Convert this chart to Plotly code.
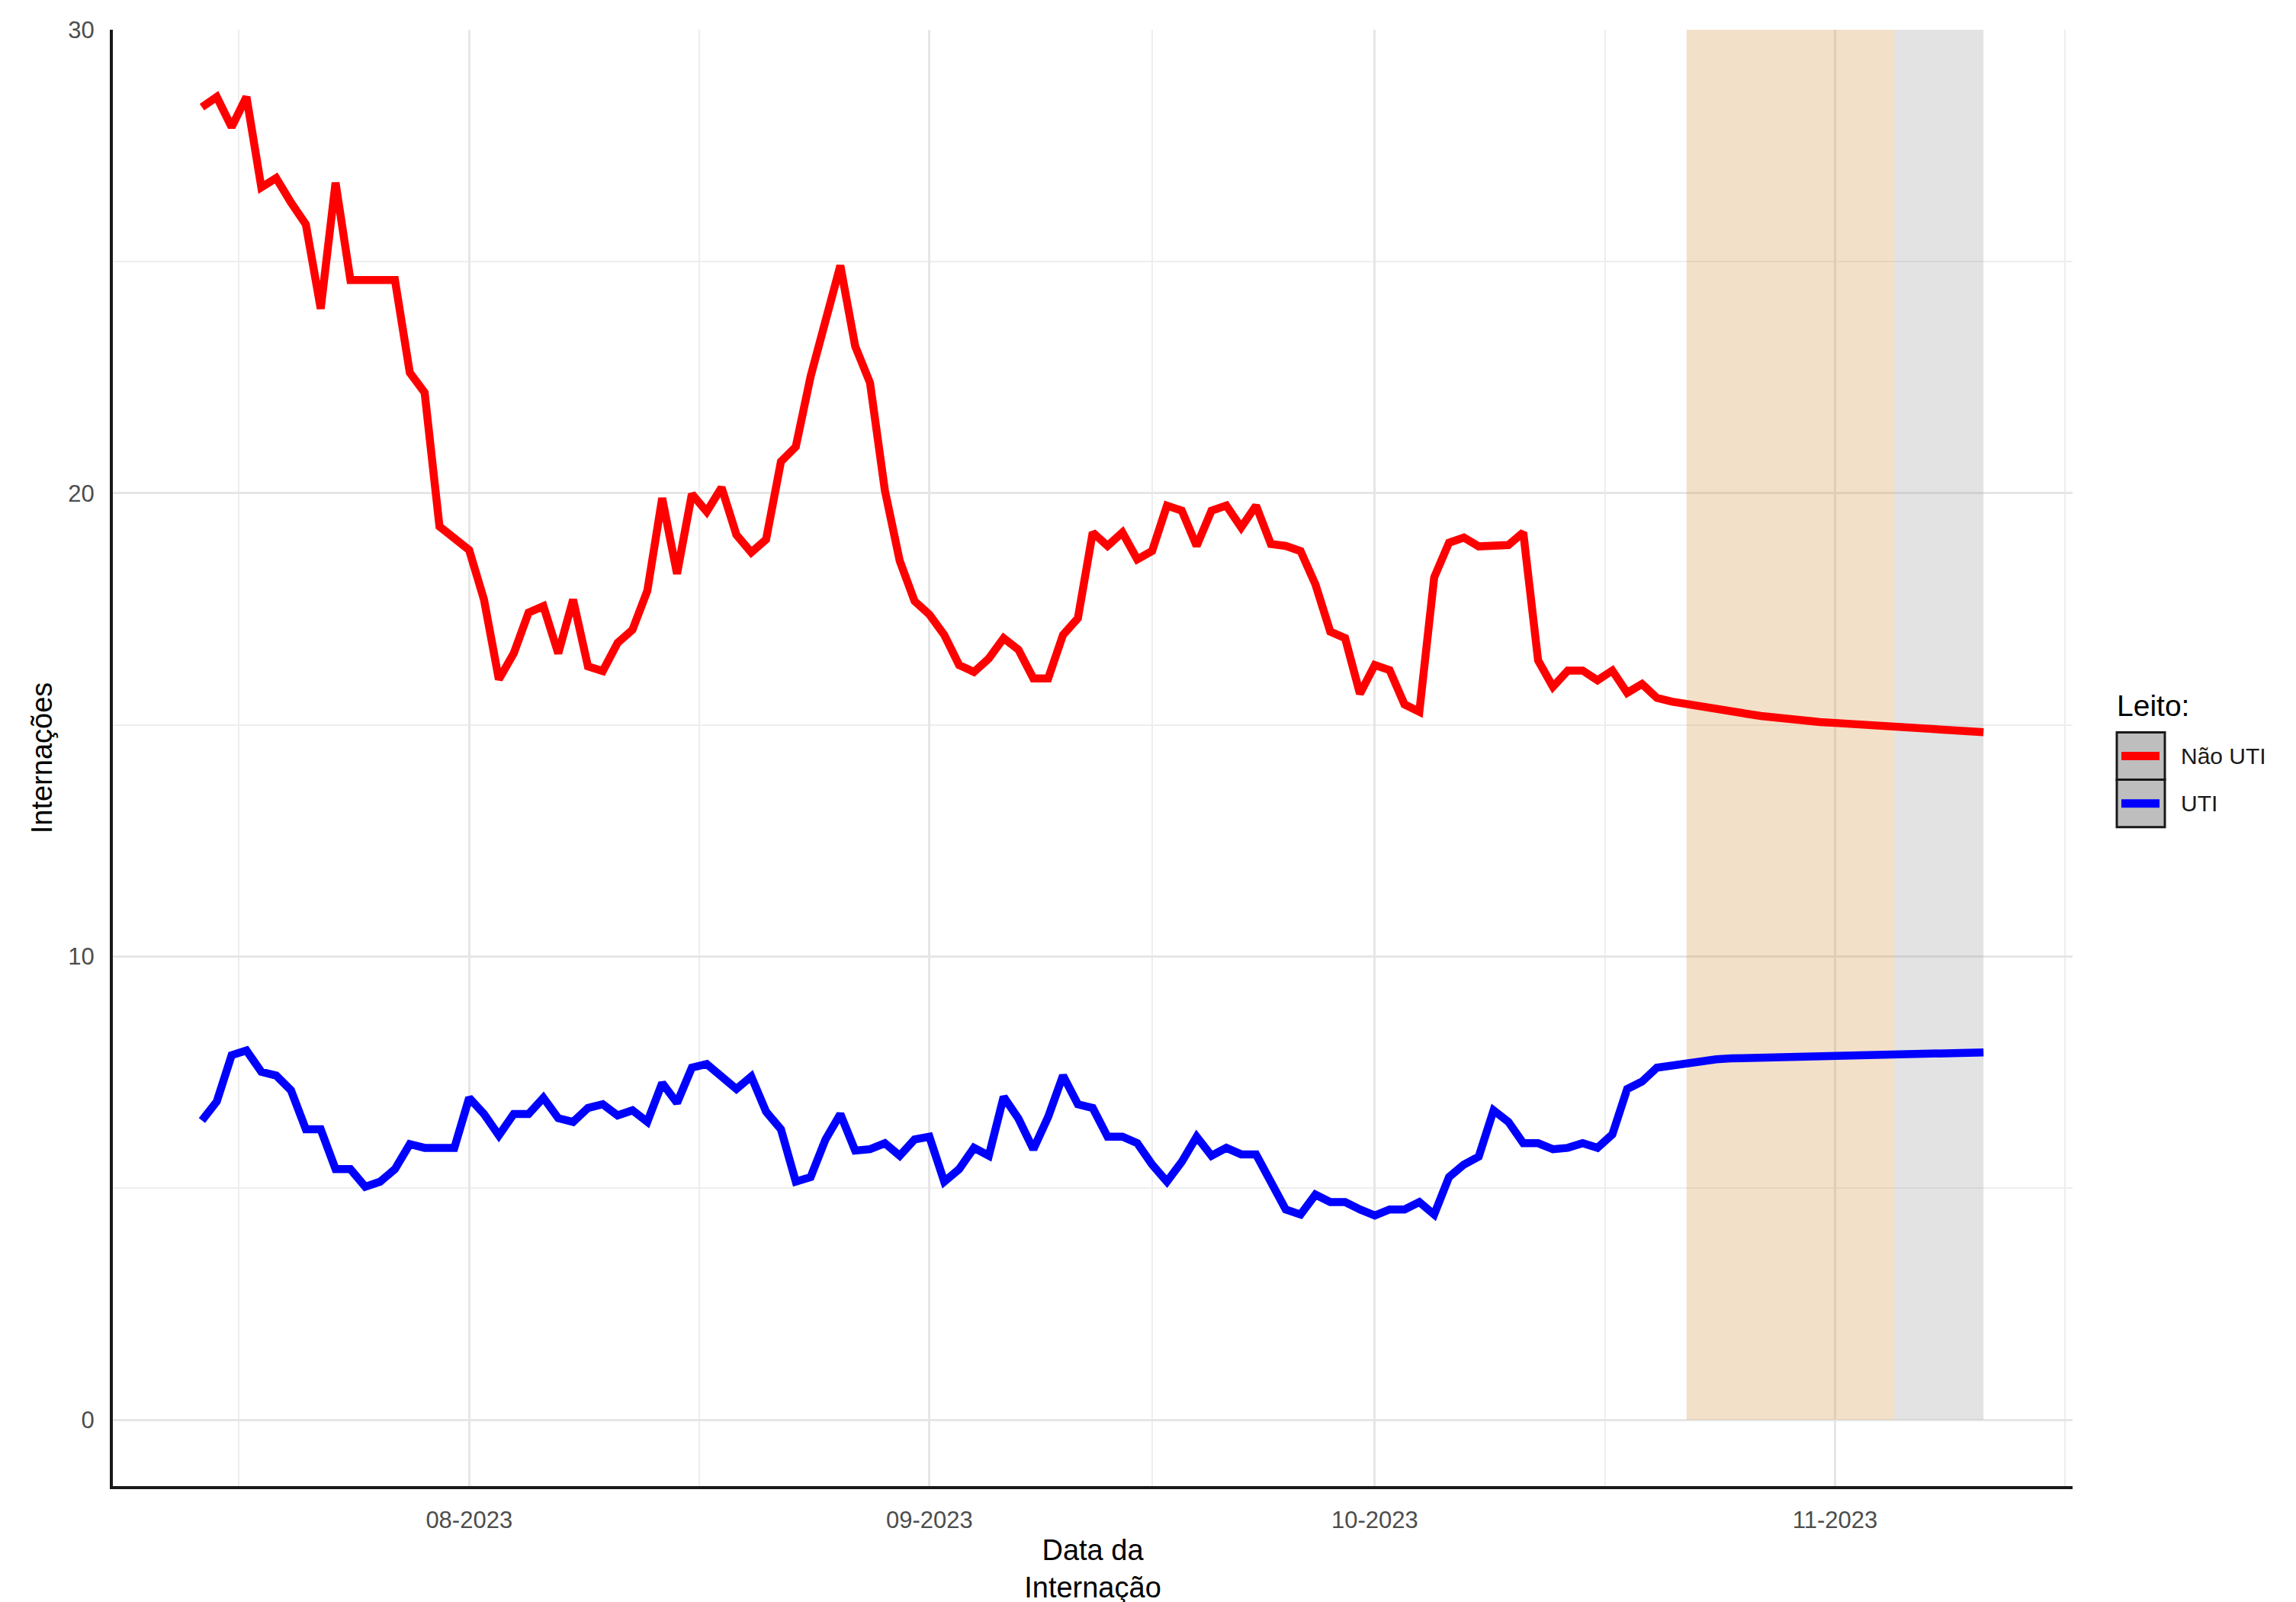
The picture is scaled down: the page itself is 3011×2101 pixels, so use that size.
import plotly.graph_objects as go
import pandas as pd

# ---------------- data ----------------
dates = pd.date_range("2023-07-14", "2023-11-11", freq="D").strftime("%Y-%m-%d").tolist()

nao_uti = [
    28.33, 28.55, 27.90, 28.55, 26.60, 26.80, 26.27, 25.80, 23.98, 26.70,
    24.60, 24.60, 24.60, 24.60, 22.60, 22.17, 19.28, 19.00,
    18.77, 17.70, 15.98, 16.54, 17.42, 17.56, 16.54, 17.70, 16.26, 16.16,
    16.77, 17.05, 17.89, 19.89, 18.26, 19.98, 19.60, 20.12, 19.10, 18.72,
    19.00, 20.68, 21.00, 22.52, 23.75, 24.91, 23.17, 22.38, 20.06, 18.54,
    17.67, 17.38, 16.94, 16.29, 16.14, 16.43, 16.87, 16.62, 16.00, 16.00,
    16.94, 17.30, 19.15, 18.86, 19.15, 18.57, 18.75, 19.73, 19.62, 18.86,
    19.62, 19.73, 19.26, 19.73, 18.90, 18.86, 18.75, 18.03, 17.01, 16.87,
    15.67, 16.29, 16.18, 15.44, 15.28, 18.18, 18.93, 19.04, 18.85, 18.85,
    18.88, 19.15, 16.39, 15.82, 16.17, 16.17, 15.96, 16.17, 15.69, 15.88,
    15.58, 15.50, 15.44,
    15.39, 15.33, 15.28, 15.24, 15.19, 15.15, 15.12, 15.09, 15.06, 15.04,
    15.02, 15.00, 14.98, 14.96, 14.94, 14.92, 14.90, 14.88, 14.86, 14.84,
]

uti = [
    6.46, 6.87, 7.87, 7.97, 7.51, 7.43, 7.11, 6.27, 6.27, 5.41,
    5.41, 5.03, 5.14, 5.41, 5.95, 5.87, 5.87, 5.87,
    6.95, 6.60, 6.14, 6.60, 6.60, 6.95, 6.51, 6.43, 6.73, 6.81,
    6.57, 6.68, 6.43, 7.27, 6.84, 7.60, 7.68, 7.41, 7.14, 7.41,
    6.65, 6.27, 5.14, 5.24, 6.05, 6.60, 5.81, 5.84, 5.97, 5.70,
    6.05, 6.11, 5.14, 5.41, 5.87, 5.70, 6.97, 6.50, 5.84, 6.54,
    7.43, 6.81, 6.73, 6.11, 6.11, 5.97, 5.51, 5.14, 5.57, 6.11,
    5.70, 5.87, 5.73, 5.73, 5.14, 4.54, 4.43, 4.86, 4.70, 4.70,
    4.54, 4.41, 4.54, 4.54, 4.70, 4.43, 5.24, 5.51, 5.68, 6.68,
    6.43, 5.97, 5.97, 5.84, 5.87, 5.97, 5.87, 6.16, 7.14, 7.30,
    7.60, 7.65, 7.72,
    7.75, 7.78, 7.80, 7.81, 7.82, 7.83, 7.84, 7.85, 7.855, 7.86,
    7.87, 7.875, 7.88, 7.89, 7.90, 7.905, 7.91, 7.92, 7.925, 7.93,
]

series_names = ["Não UTI", "UTI"]
series_colors = ["#FF0000", "#0000FF"]

x_tickvals = ["2023-08-01", "2023-09-01", "2023-10-01", "2023-11-01"]
x_ticktext = ["08-2023", "09-2023", "10-2023", "11-2023"]
x_minorvals = ["2023-07-16 12:00", "2023-08-16 12:00", "2023-09-16",
               "2023-10-16 12:00", "2023-11-16 12:00"]
x_range = ["2023-07-08", "2023-11-17"]

y_tickvals = [0, 10, 20, 30]
y_minorvals = [5, 15, 25]
y_range = [-1.43, 30.0]

band_orange = ["2023-10-22", "2023-11-05"]
band_gray = ["2023-11-05", "2023-11-11"]
band_y = [0, 30]

legend_title = "Leito:"
x_title = "Data da<br>Internação"
y_title = "Internações"

# ---------------- layout geometry (pixels) ----------------
FIG_W, FIG_H = 3011, 2101
M_L, M_R, M_T, M_B = 140, 301, 31, 134
PW = FIG_W - M_L - M_R
PH = FIG_H - M_T - M_B


def pxx(xp):
    return (xp - M_L) / PW


def pxy(yp):
    return (FIG_H - M_B - yp) / PH


FONT = "Liberation Sans, Arial, sans-serif"

fig = go.Figure()

for name, vals, col in zip(series_names, [nao_uti, uti], series_colors):
    fig.add_trace(go.Scatter(
        x=dates, y=vals, mode="lines", name=name,
        line=dict(color=col, width=10.5),
        showlegend=False,
    ))

# forecast bands
fig.add_shape(type="rect", xref="x", yref="y",
              x0=band_orange[0], x1=band_orange[1], y0=band_y[0], y1=band_y[1],
              fillcolor="rgba(215,152,72,0.30)", line=dict(width=0), layer="between")
fig.add_shape(type="rect", xref="x", yref="y",
              x0=band_gray[0], x1=band_gray[1], y0=band_y[0], y1=band_y[1],
              fillcolor="rgba(160,160,160,0.29)", line=dict(width=0), layer="between")

# manual legend (ggplot style keys)
key_x0, key_x1 = 2768, 2831
key_tops = [965, 1028]
key_h = 63
for i, (name, col) in enumerate(zip(series_names, series_colors)):
    top = key_tops[i]
    fig.add_shape(type="rect", xref="paper", yref="paper",
                  x0=pxx(key_x0), x1=pxx(key_x1), y0=pxy(top + key_h), y1=pxy(top),
                  fillcolor="#BEBEBE", line=dict(color="#1A1A1A", width=3), layer="above")
    cy = top + key_h / 2
    fig.add_shape(type="line", xref="paper", yref="paper",
                  x0=pxx(key_x0 + 6), x1=pxx(key_x1 - 7), y0=pxy(cy), y1=pxy(cy),
                  line=dict(color=col, width=11), layer="above")
    fig.add_annotation(xref="paper", yref="paper", x=pxx(2850), y=pxy(cy),
                       text=name, showarrow=False, xanchor="left", yanchor="middle",
                       font=dict(family=FONT, size=30, color="#1A1A1A"))

fig.add_annotation(xref="paper", yref="paper", x=pxx(2766), y=pxy(930),
                   text=legend_title, showarrow=False, xanchor="left", yanchor="middle",
                   font=dict(family=FONT, size=39, color="#000000"))

fig.update_layout(
    width=FIG_W, height=FIG_H,
    margin=dict(l=M_L, r=M_R, t=M_T, b=M_B, pad=0),
    paper_bgcolor="white", plot_bgcolor="white",
    showlegend=False,
    font=dict(family=FONT, color="#000000"),
)

fig.update_xaxes(
    type="date", range=x_range,
    tickmode="array", tickvals=x_tickvals, ticktext=x_ticktext,
    showgrid=True, gridcolor="#E6E6E6", gridwidth=2.5,
    minor=dict(tickvals=x_minorvals, showgrid=True, gridcolor="#EEEEEE", gridwidth=2, ticks=""),
    showline=True, linecolor="#1A1A1A", linewidth=4,
    ticks="", zeroline=False, ticklabelstandoff=14,
    tickfont=dict(family=FONT, size=31, color="#4D4D4D"),
    title=dict(text=x_title, font=dict(family=FONT, size=38, color="#000000"), standoff=10),
)

fig.update_yaxes(
    range=y_range,
    tickmode="array", tickvals=y_tickvals,
    showgrid=True, gridcolor="#E6E6E6", gridwidth=2.5,
    minor=dict(tickvals=y_minorvals, showgrid=True, gridcolor="#EEEEEE", gridwidth=2, ticks=""),
    showline=True, linecolor="#1A1A1A", linewidth=4,
    ticks="", zeroline=False, ticklabelstandoff=14,
    tickfont=dict(family=FONT, size=31, color="#4D4D4D"),
    title=dict(text=y_title, font=dict(family=FONT, size=38, color="#000000"), standoff=10),
)

fig.write_html("out.html")
